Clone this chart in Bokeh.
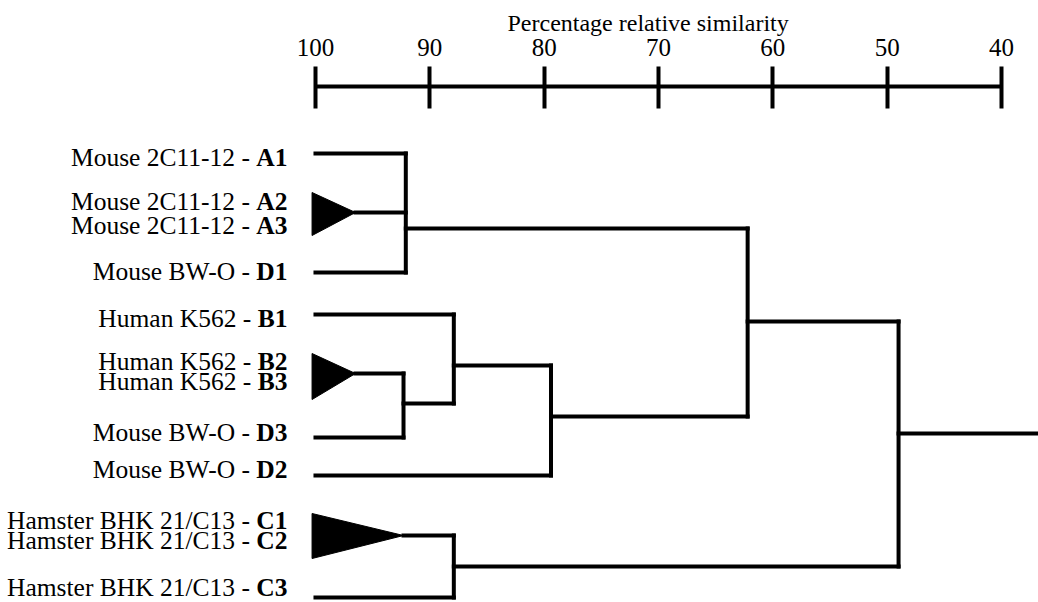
from bokeh.plotting import figure
from bokeh.models import ColumnDataSource, Range1d, LinearAxis, FixedTicker, Title
from bokeh.core.properties import value
from bokeh.embed import file_html
from bokeh.resources import INLINE

# ---------------- data ----------------
# axis ticks (percentage relative similarity)
tick_values = [100, 90, 80, 70, 60, 50, 40]
axis_title = "Percentage relative similarity"

# leaf labels (regular part + bold code), top to bottom
label_names = ["Mouse 2C11-12 -", "Mouse 2C11-12 -", "Mouse 2C11-12 -", "Mouse BW-O -",
               "Human K562 -", "Human K562 -", "Human K562 -", "Mouse BW-O -",
               "Mouse BW-O -", "Hamster BHK 21/C13 -", "Hamster BHK 21/C13 -",
               "Hamster BHK 21/C13 -"]
label_codes = ["A1", "A2", "A3", "D1", "B1", "B2", "B3", "D3", "D2", "C1", "C2", "C3"]

# collapsed pairs (drawn as wedges): name -> similarity of the pair
pair_names = ["A2A3", "B2B3", "C1C2"]
pair_sims = [96.5, 96.5, 92.3]

# internal nodes: name, children, similarity level
node_names = ["nA", "nBD3", "nB", "nBD2", "nAB", "nC", "root"]
node_children = [["A1", "A2A3", "D1"], ["B2B3", "D3"], ["B1", "nBD3"], ["nB", "D2"],
                 ["nA", "nBD2"], ["C1C2", "C3"], ["nAB", "nC"]]
node_sims = [92.1, 92.3, 87.9, 79.4, 62.2, 87.9, 49.0]
root_tail_sim = 30.0

# ---------------- layout (vertical positions of the tree) ----------------
leaf_row = {"A1": 153, "D1": 272, "B1": 314, "D3": 437, "D2": 475, "C3": 597}
pair_row = {"A2A3": (212, 192, 235), "B2B3": (373, 353, 399), "C1C2": (535, 513, 558)}
node_row = {"nA": 228, "nBD3": 403, "nB": 365, "nBD2": 416, "nAB": 321, "nC": 566, "root": 433}
label_row = [157, 201, 225, 271, 318, 361, 381, 432, 469, 520, 540, 587]

FONT = "Liberation Serif"
LBL = 25.5

p = figure(width=1038, height=602, output_backend="svg", toolbar_location=None,
           x_range=Range1d(127.55, 36.76), y_range=Range1d(602, 86),
           x_axis_type=None, y_axis_type=None,
           min_border_left=0, min_border_right=0, min_border_bottom=0, min_border_top=86)
p.outline_line_color = None
p.xgrid.visible = False
p.ygrid.visible = False
p.background_fill_color = "white"
p.border_fill_color = "white"

ax = LinearAxis(ticker=FixedTicker(ticks=tick_values), bounds=(40, 100))
ax.major_label_text_font = FONT
ax.major_label_text_font_size = "25px"
ax.major_label_text_color = "black"
ax.major_label_standoff = 11
ax.axis_line_width = 4
ax.axis_line_color = "black"
ax.major_tick_line_width = 4
ax.major_tick_line_color = "black"
ax.major_tick_in = 22
ax.major_tick_out = 20
ax.minor_tick_line_color = None
p.add_layout(ax, "above")

ttl = Title(text=axis_title, align="left", offset=507, standoff=0,
            text_font=FONT, text_font_size="24px", text_font_style="normal",
            text_color="black")
p.add_layout(ttl, "above")

# positions / levels of every element
level = {k: 100.0 for k in leaf_row}
ypos = dict(leaf_row)
for n, s in zip(pair_names, pair_sims):
    level[n] = s
    ypos[n] = pair_row[n][0]
for n, s in zip(node_names, node_sims):
    level[n] = s
    ypos[n] = node_row[n]

# wedges for collapsed pairs
wx, wy = [], []
for n in pair_names:
    yc, yt, yb = pair_row[n]
    wx.append([100.3, 100.3, level[n]])
    wy.append([yt, yb, yc])
p.patches(wx, wy, fill_color="black", line_color="black", line_width=1)

# tree branches
xs, ys = [], []
for n, ch in zip(node_names, node_children):
    s = level[n]
    for c in ch:
        xs.append([level[c], s])
        ys.append([ypos[c], ypos[c]])
    cy = [ypos[c] for c in ch]
    xs.append([s, s])
    ys.append([min(cy), max(cy)])
xs.append([level["root"], root_tail_sim])
ys.append([ypos["root"], ypos["root"]])
p.multi_line(xs, ys, line_color="black", line_width=4, line_cap="square", line_join="miter")

# labels: regular part + bold code
bold_w = {"A": 0.722, "B": 0.667, "C": 0.722, "D": 0.722, "1": 0.5, "2": 0.5, "3": 0.5}
end_off = -28
code_off = [end_off] * len(label_codes)
name_off = [end_off - sum(bold_w[ch] for ch in c) * LBL - 0.25 * LBL for c in label_codes]
src = ColumnDataSource(dict(x=[100.0] * len(label_codes), y=label_row,
                            name=label_names, code=label_codes,
                            noff=name_off, coff=code_off))
p.text(x="x", y="y", text="name", x_offset="noff", source=src, text_align="right",
       text_baseline="middle", text_font=value(FONT), text_font_size=f"{LBL}px",
       text_color="black")
p.text(x="x", y="y", text="code", x_offset="coff", source=src, text_align="right",
       text_baseline="middle", text_font=value(FONT), text_font_size=f"{LBL}px",
       text_font_style="bold", text_color="black")

open("out.html", "w").write(file_html(p, INLINE))
